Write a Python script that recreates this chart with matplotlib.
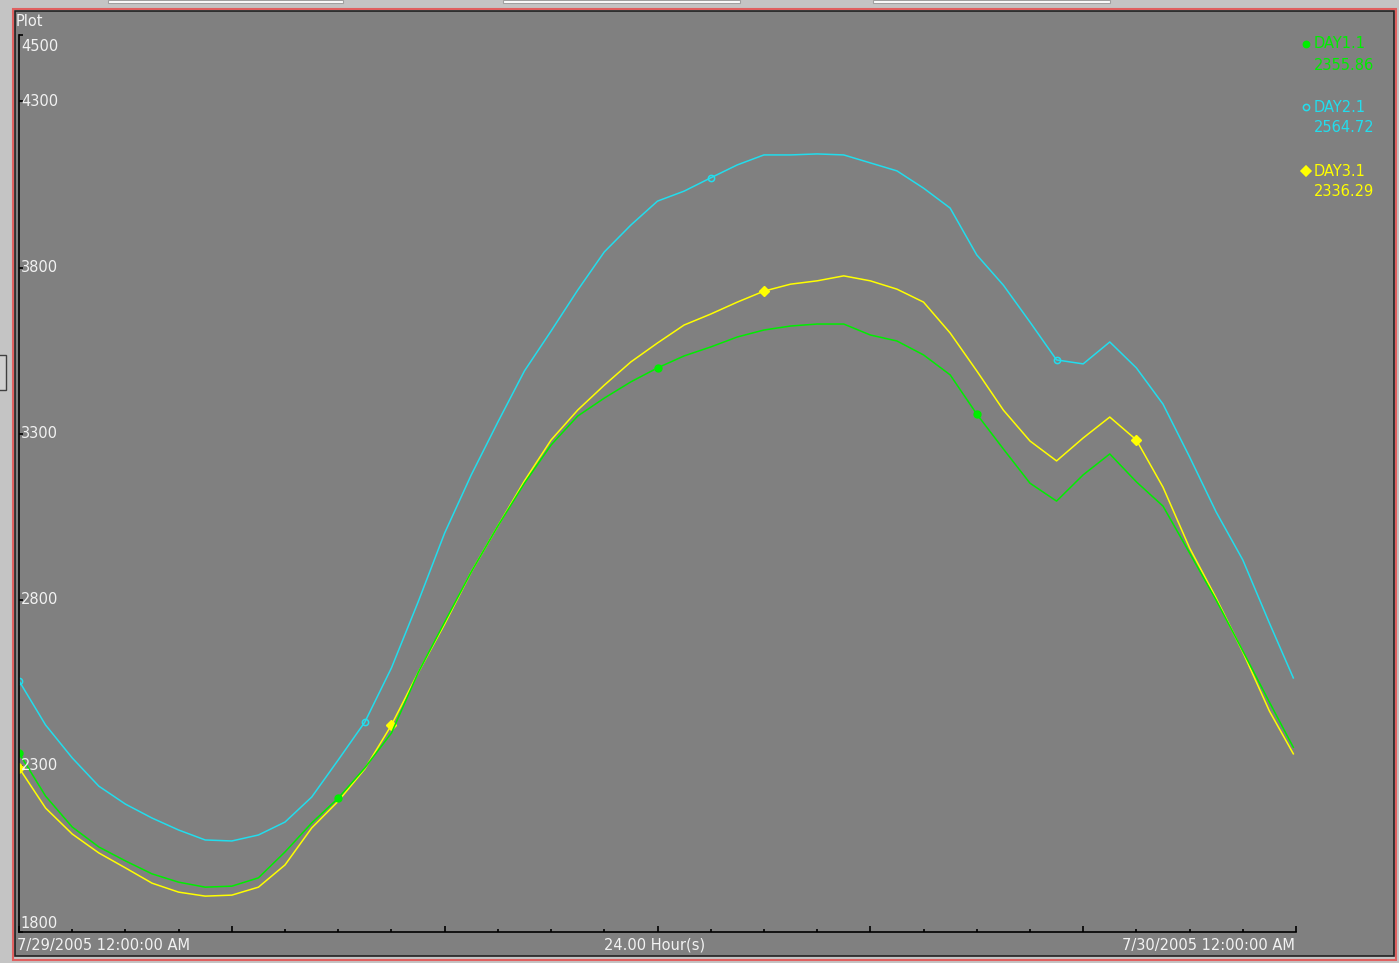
import numpy as np
import matplotlib
matplotlib.use("Agg")
import matplotlib.pyplot as plt
from matplotlib.patches import Rectangle
from matplotlib.lines import Line2D
import matplotlib.transforms as mtransforms

W, H = 1399, 963

# sample times in hours after 7/29/2005 12:00 AM
hours = np.arange(0, 24, 0.5).tolist() + [23.95]

day1 = [2339, 2209, 2116, 2056, 2014, 1975, 1950, 1935, 1938, 1963,
        2041, 2128, 2203, 2294, 2399, 2580, 2733, 2884, 3022, 3151,
        3266, 3353, 3407, 3456, 3498, 3534, 3561, 3591, 3612, 3624,
        3630, 3630, 3597, 3579, 3537, 3477, 3359, 3254, 3151, 3097,
        3176, 3239, 3155, 3082, 2941, 2799, 2646, 2492, 2355.86]

day2 = [2556, 2423, 2324, 2239, 2185, 2143, 2107, 2077, 2074, 2092,
        2131, 2206, 2318, 2432, 2595, 2793, 3001, 3176, 3335, 3489,
        3609, 3732, 3847, 3928, 4000, 4030, 4070, 4109, 4139, 4139,
        4142, 4139, 4115, 4091, 4039, 3979, 3838, 3747, 3636, 3522,
        3510, 3576, 3498, 3389, 3230, 3064, 2920, 2730, 2564.72]

day3 = [2294, 2173, 2095, 2038, 1993, 1947, 1920, 1908, 1911, 1935,
        2002, 2113, 2194, 2291, 2423, 2580, 2727, 2884, 3022, 3158,
        3281, 3371, 3446, 3516, 3573, 3627, 3660, 3696, 3729, 3750,
        3760, 3775, 3760, 3735, 3696, 3603, 3489, 3371, 3278, 3218,
        3287, 3350, 3281, 3139, 2956, 2805, 2643, 2465, 2336.29]

names = ["DAY1.1", "DAY2.1", "DAY3.1"]
y_ticks = [4500, 4300, 3800, 3300, 2800, 2300, 1800]

GREEN, CYAN, YELLOW = "#00ee00", "#22dded", "#ffff00"
PANEL = "#808080"
TXT = "#f2f2f2"
FS = 10.5


def fx(px):
    return px / W


def fy(py):
    return 1 - py / H


fig = plt.figure(figsize=(W / 100, H / 100), dpi=100, facecolor="#c4c4c4")

# window chrome: tabs on top, frame, panel (kept behind the axes)
for x0, x1 in [(108, 343), (503, 740), (873, 1110)]:
    fig.add_artist(Rectangle((fx(x0), fy(3)), fx(x1 - x0), 3 / H, transform=fig.transFigure,
                             facecolor="white", edgecolor="#a0a0a0", lw=0.8, zorder=-10))
fig.add_artist(Rectangle((fx(-2), fy(390)), fx(8), 35 / H, transform=fig.transFigure,
                         facecolor="#d0d0d0", edgecolor="#404040", lw=1, zorder=-10))
fig.add_artist(Rectangle((fx(13), fy(960)), fx(1383), 951 / H, transform=fig.transFigure,
                         facecolor="none", edgecolor="#e06060", lw=1.5, zorder=-10))
fig.add_artist(Rectangle((fx(15), fy(956)), fx(1379), 945 / H, transform=fig.transFigure,
                         facecolor=PANEL, edgecolor="#202020", lw=1.2, zorder=-9))

ax = fig.add_axes([fx(19), fy(932), fx(1296 - 19), (932 - 35) / H])
ax.set_facecolor(PANEL)
ax.set_xlim(0, 24)
ax.set_ylim(1800, 4500)
for s in ["top", "right"]:
    ax.spines[s].set_visible(False)
for s in ["left", "bottom"]:
    ax.spines[s].set_color("black")
    ax.spines[s].set_linewidth(1.2)

ax.set_xticks(range(0, 25, 4))
ax.set_xticks(range(25), minor=True)
ax.set_yticks(y_ticks)
ax.tick_params(axis="both", which="both", direction="in", color="black",
               labelbottom=False, labelleft=False)
ax.tick_params(axis="x", which="major", length=4, width=1.2)
ax.tick_params(axis="x", which="minor", length=2.5, width=1.2)
ax.tick_params(axis="y", length=3, width=1.2)

ax.plot(hours, day2, color=CYAN, lw=1.1, marker="o", ms=4.5, mfc="none", mew=1.1,
        markevery=[0, 13, 26, 39])
ax.plot(hours, day3, color=YELLOW, lw=1.1, marker="D", ms=5, markevery=[0, 14, 28, 42])
ax.plot(hours, day1, color=GREEN, lw=1.1, marker="o", ms=5, markevery=[0, 12, 24, 36])

# value labels inside the left edge
trans = mtransforms.blended_transform_factory(ax.transAxes, ax.transData)
for v in y_ticks:
    va = "top" if v == 4500 else ("bottom" if v == 1800 else "center")
    off = -12 if v == 4500 else (3 if v == 1800 else 0)
    ax.text(0.0015, v + off, str(v), transform=trans, ha="left", va=va,
            color=TXT, fontsize=FS)

fig.text(fx(16), fy(22), "Plot", color=TXT, fontsize=FS, ha="left", va="center")
fig.text(fx(17), fy(945), "7/29/2005 12:00:00 AM", color=TXT, fontsize=FS,
         ha="left", va="center")
fig.text(fx(655), fy(945), "24.00 Hour(s)", color=TXT, fontsize=FS,
         ha="center", va="center")
fig.text(fx(1295), fy(945), "7/30/2005 12:00:00 AM", color=TXT, fontsize=FS,
         ha="right", va="center")

# legend with last values
legend_rows = [(44, GREEN, "o", GREEN, day1[-1]),
               (107, CYAN, "o", "none", day2[-1]),
               (171, YELLOW, "D", YELLOW, day3[-1])]
for (py, col, mk, fc, last), name in zip(legend_rows, names):
    fig.add_artist(Line2D([fx(1306)], [fy(py)], transform=fig.transFigure, marker=mk,
                          ms=4.5 if mk == "o" else 5, mfc=fc, mec=col, mew=1.1, lw=0))
    fig.text(fx(1314), fy(py), name, color=col, fontsize=FS, ha="left", va="center")
    fig.text(fx(1314), fy(py + 21), f"{last:.2f}", color=col, fontsize=FS,
             ha="left", va="center")

fig.savefig("out.png", dpi=100, facecolor=fig.get_facecolor())
